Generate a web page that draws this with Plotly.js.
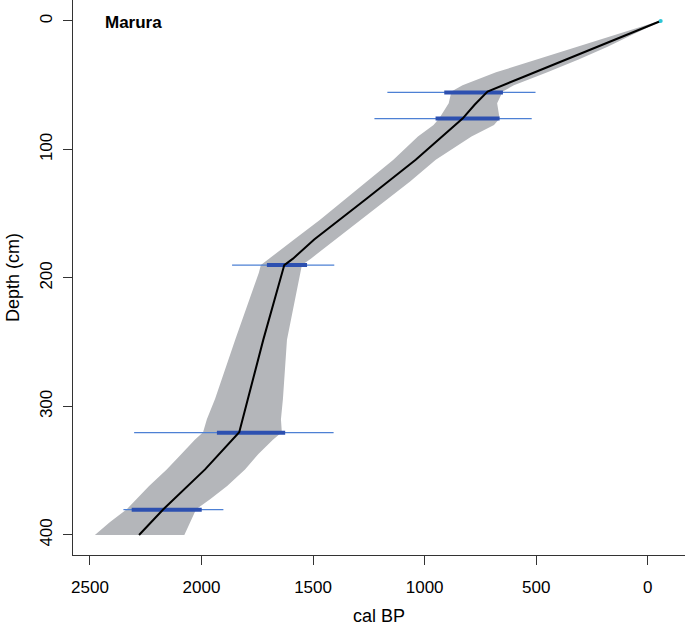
<!DOCTYPE html>
<html>
<head>
<meta charset="utf-8">
<script src="https://cdn.plot.ly/plotly-3.0.1.min.js"></script>
<style>
  body { margin: 0; background: #fff; }
  #chart { width: 685px; height: 626px; }
</style>
</head>
<body>
<div id="chart"></div>
<script>
// age-depth model for Marura

// grey envelope (cal BP)
var envDepth = [0, 10, 20, 30, 40, 50, 55, 64, 76, 81, 90, 108, 125, 139, 155, 170, 185, 190, 196, 248, 294, 310, 320, 326, 337, 349, 362, 372, 380, 390, 400];
var envOld   = [-52, 130, 320, 500, 680, 830, 880, 892, 935, 960, 1030, 1140, 1260, 1360, 1470, 1585, 1700, 1734, 1743, 1849, 1939, 1976, 1993, 2030, 2090, 2156, 2235, 2290, 2335, 2410, 2478];
var envYoung = [-62, 60, 180, 310, 450, 600, 650, 675, 664, 689, 790, 950, 1065, 1170, 1290, 1400, 1510, 1550, 1559, 1617, 1635, 1644, 1640, 1680, 1745, 1805, 1885, 1960, 2024, 2050, 2077];

// median / best fit
var medDepth = [0, 25, 43, 55, 65, 76, 108, 139, 170, 185, 190, 248, 294, 320, 349, 380, 400];
var medAge   = [-58, 300, 550, 718, 775, 830, 1040, 1265, 1495, 1590, 1629, 1723, 1792, 1831, 1984, 2171, 2280];

// dated levels
var dateDepth  = [55.6, 76, 190, 320.4, 380.3];
var wideOld    = [1167, 1225, 1863, 2302, 2350];
var wideYoung  = [503, 520, 1405, 1408, 1902];
var narrowOld  = [912, 951, 1707, 1931, 2313];
var narrowYoung = [649, 664, 1527, 1625, 1999];

// surface point
var surfDepth = [0];
var surfAge = [-58];

var xTicks = [2500, 2000, 1500, 1000, 500, 0];
var yTicks = [0, 100, 200, 300, 400];

var data = [];

data.push({
  x: envOld.concat(envYoung.slice().reverse()),
  y: envDepth.concat(envDepth.slice().reverse()),
  type: 'scatter', mode: 'lines',
  fill: 'toself', fillcolor: '#b4b6ba',
  line: {width: 0, color: '#b4b6ba'},
  hoverinfo: 'skip'
});

dateDepth.forEach(function (d, i) {
  data.push({
    x: [wideOld[i], wideYoung[i]], y: [d, d],
    type: 'scatter', mode: 'lines',
    line: {color: '#4d80d4', width: 1.3}
  });
});
dateDepth.forEach(function (d, i) {
  data.push({
    x: [narrowOld[i], narrowYoung[i]], y: [d, d],
    type: 'scatter', mode: 'lines',
    line: {color: '#2d50b0', width: 4}
  });
});

data.push({
  x: medAge, y: medDepth,
  type: 'scatter', mode: 'lines',
  line: {color: '#000', width: 2}
});

data.push({
  x: surfAge, y: surfDepth,
  type: 'scatter', mode: 'markers',
  marker: {color: '#2cc6d6', size: 4}
});

var font = {family: 'Liberation Sans, Arial, sans-serif', color: '#000'};

var layout = {
  width: 685, height: 626,
  margin: {l: 73, r: 0, t: 0, b: 71},
  showlegend: false,
  paper_bgcolor: '#fff', plot_bgcolor: '#fff',
  font: font,
  xaxis: {
    range: [2576, -167],
    tickvals: xTicks,
    ticks: 'outside', ticklen: 9, tickcolor: '#333', tickwidth: 1,
    ticklabelstandoff: 8,
    showline: true, linecolor: '#333', linewidth: 1,
    showgrid: false, zeroline: false,
    tickfont: {size: 17},
    title: {text: 'cal BP', font: {size: 18}, standoff: 14}
  },
  yaxis: {
    range: [415.6, -16.3],
    tickvals: yTicks,
    tickangle: -90,
    ticks: 'outside', ticklen: 9, tickcolor: '#333', tickwidth: 1,
    ticklabelstandoff: 4,
    showline: true, linecolor: '#333', linewidth: 1,
    showgrid: false, zeroline: false,
    tickfont: {size: 17},
    title: {text: 'Depth (cm)', font: {size: 18}, standoff: 12}
  },
  annotations: [{
    text: '<b>Marura</b>',
    xref: 'paper', yref: 'paper',
    x: 0.049, y: 0.9586,
    xanchor: 'left', yanchor: 'middle',
    showarrow: false,
    font: {size: 17, family: 'Liberation Sans, Arial, sans-serif', color: '#000'}
  }]
};

Plotly.newPlot('chart', data, layout, {displayModeBar: false, staticPlot: true});
</script>
</body>
</html>
